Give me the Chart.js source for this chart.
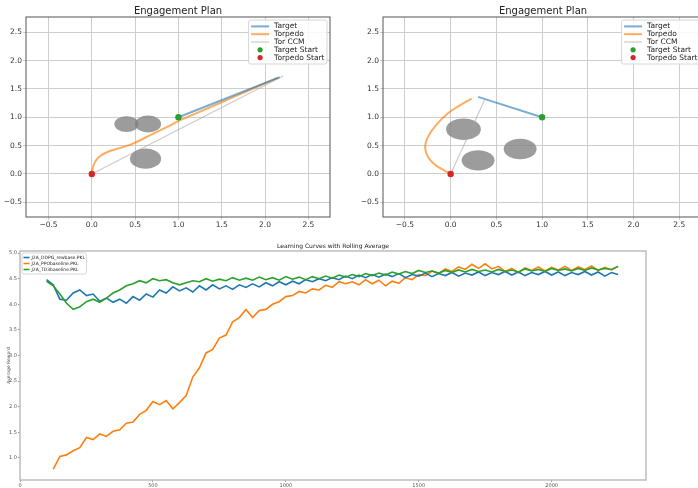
<!DOCTYPE html>
<html>
<head>
<meta charset="utf-8">
<script src="https://cdn.jsdelivr.net/npm/chart.js@4.4.0/dist/chart.umd.min.js"></script>
<style>
html, body { margin: 0; padding: 0; background: #fff; overflow: hidden; width: 698px; height: 488px; }
canvas { position: absolute; }
#plan1 { left: 0; top: 0; }
#plan2 { left: 350px; top: 0; }
#curves { left: 0; top: 236px; }
</style>
</head>
<body>
<canvas id="plan1" width="345" height="235"></canvas>
<canvas id="plan2" width="360" height="235"></canvas>
<canvas id="curves" width="698" height="252"></canvas>
<script>
// ---- Engagement plan (left) ----
const plan1TargetX = [1.0, 2.17];
const plan1TargetY = [1.0, 1.71];
const plan1TorpX = [0, 0.01, 0.04, 0.10, 0.20, 0.33, 0.48, 0.67, 0.87, 1.01, 1.25, 1.64, 2.15];
const plan1TorpY = [0, 0.10, 0.22, 0.32, 0.40, 0.46, 0.54, 0.68, 0.83, 0.94, 1.10, 1.36, 1.70];
const plan1CcmX = [0, 2.21];
const plan1CcmY = [0, 1.73];
const plan1ObsX = [0.40, 0.65, 0.62];
const plan1ObsY = [0.88, 0.88, 0.27];
const plan1ObsR = [0.14, 0.15, 0.18];

// ---- Engagement plan (right) ----
const plan2TargetX = [1.0, 0.30];
const plan2TargetY = [1.0, 1.36];
const plan2TorpX = [0, -0.08, -0.16, -0.22, -0.26, -0.28, -0.25, -0.16, -0.03, 0.10, 0.23];
const plan2TorpY = [0, 0.07, 0.15, 0.24, 0.34, 0.48, 0.65, 0.86, 1.07, 1.21, 1.33];
const plan2CcmX = [0, 0.37];
const plan2CcmY = [0, 1.30];
const plan2ObsX = [0.14, 0.30, 0.76];
const plan2ObsY = [0.79, 0.24, 0.44];
const plan2ObsR = [0.19, 0.18, 0.18];

const planTicks = [-0.5, 0.0, 0.5, 1.0, 1.5, 2.0, 2.5];

// ---- Learning curves ----
const steps = [100,125,150,175,200,225,250,275,300,325,350,375,400,425,450,475,500,525,550,575,
  600,625,650,675,700,725,750,775,800,825,850,875,900,925,950,975,1000,1025,1050,1075,
  1100,1125,1150,1175,1200,1225,1250,1275,1300,1325,1350,1375,1400,1425,1450,1475,1500,1525,1550,1575,
  1600,1625,1650,1675,1700,1725,1750,1775,1800,1825,1850,1875,1900,1925,1950,1975,2000,2025,2050,2075,
  2100,2125,2150,2175,2200,2225,2250];
const ddpgReward = [4.48,4.38,4.10,4.08,4.22,4.28,4.17,4.20,4.06,4.12,
  4.04,4.10,4.02,4.15,4.08,4.20,4.14,4.28,4.22,4.34,
  4.26,4.32,4.24,4.36,4.28,4.38,4.30,4.36,4.29,4.38,
  4.33,4.40,4.34,4.42,4.36,4.44,4.38,4.45,4.40,4.48,
  4.44,4.50,4.46,4.52,4.48,4.55,4.50,4.57,4.52,4.58,
  4.53,4.59,4.54,4.60,4.52,4.58,4.55,4.61,4.54,4.60,
  4.56,4.62,4.55,4.61,4.57,4.63,4.56,4.62,4.58,4.64,
  4.57,4.63,4.56,4.62,4.58,4.64,4.57,4.63,4.56,4.62,
  4.58,4.64,4.57,4.63,4.55,4.62,4.58];
const ppoReward = [null,0.78,1.03,1.06,1.14,1.20,1.40,1.36,1.47,1.42,
  1.52,1.55,1.68,1.70,1.85,1.93,2.10,2.04,2.12,1.96,
  2.08,2.22,2.58,2.76,3.05,3.12,3.34,3.40,3.66,3.74,
  3.90,3.74,3.88,3.90,4.00,4.05,4.15,4.17,4.25,4.22,
  4.30,4.28,4.37,4.33,4.44,4.40,4.44,4.38,4.48,4.40,
  4.47,4.36,4.45,4.41,4.52,4.48,4.58,4.56,4.65,4.60,
  4.69,4.64,4.73,4.68,4.78,4.70,4.79,4.69,4.74,4.64,
  4.70,4.62,4.71,4.66,4.73,4.65,4.72,4.67,4.74,4.66,
  4.73,4.68,4.75,4.66,4.72,4.67,4.74];
const td3Reward = [4.45,4.36,4.20,4.02,3.90,3.95,4.05,4.10,4.04,4.12,
  4.22,4.28,4.36,4.40,4.46,4.42,4.50,4.46,4.48,4.42,
  4.38,4.42,4.46,4.44,4.50,4.45,4.49,4.46,4.52,4.47,
  4.51,4.47,4.53,4.48,4.52,4.47,4.54,4.49,4.53,4.48,
  4.54,4.50,4.55,4.51,4.57,4.53,4.58,4.54,4.60,4.56,
  4.61,4.57,4.63,4.59,4.64,4.60,4.66,4.62,4.65,4.61,
  4.66,4.62,4.67,4.63,4.68,4.64,4.67,4.63,4.68,4.64,
  4.67,4.63,4.69,4.65,4.68,4.64,4.70,4.66,4.69,4.65,
  4.70,4.66,4.71,4.67,4.70,4.68,4.74];
const curveNames = ['J2A_DDPG_rewbase.PKL', 'J2A_PPObaseline.PKL', 'J2A_TD3baseline.PKL'];
const stepTicks = [0, 500, 1000, 1500, 2000];
const rewardTicks = [1.0, 1.5, 2.0, 2.5, 3.0, 3.5, 4.0, 4.5, 5.0];

const FONT = '"DejaVu Sans", sans-serif';

function pts(xs, ys) {
  return xs.map((x, i) => ({ x: x, y: ys[i] }));
}

function fmt1(v) {
  return (v < 0 ? '\u2212' : '') + Math.abs(v).toFixed(1);
}

// gray circles (obstacles), sized in data units so they go elliptical like matplotlib
const obstaclePlugin = {
  id: 'obstacles',
  beforeDatasetsDraw(chart, args, opts) {
    if (!opts.xs) return;
    const ctx = chart.ctx, a = chart.chartArea, sx = chart.scales.x, sy = chart.scales.y;
    ctx.save();
    ctx.beginPath();
    ctx.rect(a.left, a.top, a.right - a.left, a.bottom - a.top);
    ctx.clip();
    ctx.fillStyle = opts.color;
    opts.xs.forEach((cx, i) => {
      const px = sx.getPixelForValue(cx), py = sy.getPixelForValue(opts.ys[i]);
      const rx = Math.abs(sx.getPixelForValue(cx + opts.rs[i]) - px);
      const ry = Math.abs(sy.getPixelForValue(opts.ys[i] + opts.rs[i]) - py);
      ctx.beginPath();
      ctx.ellipse(px, py, rx, ry, 0, 0, Math.PI * 2);
      ctx.fill();
    });
    ctx.restore();
  }
};

// full box around the plot + title centred over the plot area
const framePlugin = {
  id: 'frame',
  afterDraw(chart, args, opts) {
    const ctx = chart.ctx, a = chart.chartArea;
    ctx.save();
    ctx.strokeStyle = opts.color;
    ctx.lineWidth = opts.width;
    ctx.strokeRect(a.left, a.top, a.right - a.left, a.bottom - a.top);
    if (opts.title) {
      ctx.fillStyle = '#222';
      ctx.font = opts.titleSize + 'px ' + FONT;
      ctx.textAlign = 'center';
      ctx.textBaseline = 'alphabetic';
      ctx.fillText(opts.title, (a.left + a.right) / 2, a.top - opts.titleGap);
    }
    ctx.restore();
  }
};

// matplotlib-style legend drawn inside the axes
const legendPlugin = {
  id: 'insideLegend',
  afterDatasetsDraw(chart, args, o) {
    const ctx = chart.ctx, a = chart.chartArea;
    const items = chart.data.datasets;
    ctx.save();
    ctx.font = o.fontSize + 'px ' + FONT;
    const textW = Math.max(...items.map(ds => ctx.measureText(ds.label).width));
    const w = o.pad * 2 + o.swatch + o.gap + textW;
    const h = o.pad * 2 + items.length * o.row;
    const x0 = o.align === 'right' ? a.right - o.margin - w : a.left + o.margin;
    const y0 = a.top + o.margin;
    ctx.fillStyle = 'rgba(255,255,255,0.85)';
    ctx.strokeStyle = '#d6d6d6';
    ctx.lineWidth = 1;
    ctx.beginPath();
    ctx.roundRect(x0, y0, w, h, 2);
    ctx.fill();
    ctx.stroke();
    ctx.textBaseline = 'middle';
    ctx.fillStyle = '#222';
    items.forEach((ds, i) => {
      const cy = y0 + o.pad + o.row * (i + 0.5);
      const sx = x0 + o.pad;
      if (ds.marker) {
        ctx.fillStyle = ds.backgroundColor;
        ctx.beginPath();
        ctx.arc(sx + o.swatch / 2, cy, o.dot, 0, Math.PI * 2);
        ctx.fill();
      } else {
        ctx.strokeStyle = ds.borderColor;
        ctx.lineWidth = ds.borderWidth;
        ctx.beginPath();
        ctx.moveTo(sx, cy);
        ctx.lineTo(sx + o.swatch, cy);
        ctx.stroke();
      }
      ctx.fillStyle = '#222';
      ctx.fillText(ds.label, sx + o.swatch + o.gap, cy);
    });
    ctx.restore();
  }
};

function planConfig(d, yWidth, rightPad, xMin, xMax) {
  return {
    type: 'scatter',
    data: {
      datasets: [
        { label: 'Target', data: pts(d.tx, d.ty), showLine: true, borderColor: 'rgba(31,119,180,0.6)', borderWidth: 2, pointRadius: 0, order: 2 },
        { label: 'Torpedo', data: pts(d.px, d.py), showLine: true, borderColor: 'rgba(255,127,14,0.65)', borderWidth: 2, pointRadius: 0, tension: 0.35, order: 3 },
        { label: 'Tor CCM', data: pts(d.cx, d.cy), showLine: true, borderColor: 'rgba(160,160,160,0.55)', borderWidth: 1.2, pointRadius: 0, order: 4 },
        { label: 'Target Start', data: [{ x: d.tx[0], y: d.ty[0] }], marker: true, backgroundColor: '#2ca02c', pointRadius: 3.2, borderWidth: 0, order: 0 },
        { label: 'Torpedo Start', data: [{ x: d.px[0], y: d.py[0] }], marker: true, backgroundColor: '#d62728', pointRadius: 3.2, borderWidth: 0, order: 1 }
      ]
    },
    options: {
      responsive: false,
      animation: false,
      devicePixelRatio: 1,
      layout: { padding: { top: 17, right: rightPad, left: 0, bottom: 0 } },
      plugins: {
        legend: { display: false },
        tooltip: { enabled: false },
        obstacles: { xs: d.ox, ys: d.oy, rs: d.or, color: 'rgba(128,128,128,0.78)' },
        frame: { color: '#555', width: 1, title: 'Engagement Plan', titleSize: 10, titleGap: 3 },
        insideLegend: { align: 'right', fontSize: 7.5, row: 7.8, pad: 2.5, swatch: 18, gap: 5, margin: 3, dot: 2.6 }
      },
      scales: {
        x: {
          type: 'linear', min: xMin, max: xMax,
          afterBuildTicks: s => { s.ticks = planTicks.map(v => ({ value: v })); },
          afterFit: s => { s.height = 18; },
          grid: { color: '#cdcdcd', lineWidth: 1, tickLength: 3 },
          border: { display: false },
          ticks: { font: { family: FONT, size: 7.5 }, color: '#333', padding: 1, maxRotation: 0, callback: fmt1 }
        },
        y: {
          type: 'linear', min: -0.76, max: 2.77,
          afterBuildTicks: s => { s.ticks = planTicks.map(v => ({ value: v })); },
          afterFit: s => { s.width = yWidth; },
          grid: { color: '#cdcdcd', lineWidth: 1, tickLength: 3 },
          border: { display: false },
          ticks: { font: { family: FONT, size: 7.5 }, color: '#333', padding: 1, callback: fmt1 }
        }
      }
    },
    plugins: [obstaclePlugin, framePlugin, legendPlugin]
  };
}

new Chart(document.getElementById('plan1'), planConfig({
  tx: plan1TargetX, ty: plan1TargetY, px: plan1TorpX, py: plan1TorpY,
  cx: plan1CcmX, cy: plan1CcmY, ox: plan1ObsX, oy: plan1ObsY, or: plan1ObsR
}, 26, 15, -0.76, 2.75));

new Chart(document.getElementById('plan2'), planConfig({
  tx: plan2TargetX, ty: plan2TargetY, px: plan2TorpX, py: plan2TorpY,
  cx: plan2CcmX, cy: plan2CcmY, ox: plan2ObsX, oy: plan2ObsY, or: plan2ObsR
}, 33, 7, -0.74, 2.76));

const curveColors = ['#1f77b4', '#ff7f0e', '#2ca02c'];
const curveSeries = [ddpgReward, ppoReward, td3Reward];

new Chart(document.getElementById('curves'), {
  type: 'line',
  data: {
    datasets: curveSeries.map((vals, k) => ({
      label: curveNames[k],
      data: pts(steps, vals),
      borderColor: curveColors[k],
      borderWidth: 1.6,
      pointRadius: 0,
      tension: 0,
      order: k === 1 ? 2 : (k === 0 ? 1 : 0)
    }))
  },
  options: {
    responsive: false,
    animation: false,
    devicePixelRatio: 1,
    layout: { padding: { top: 15, right: 52, left: 0, bottom: 0 } },
    plugins: {
      legend: { display: false },
      tooltip: { enabled: false },
      frame: { color: '#bdbdbd', width: 1.5, title: 'Learning Curves with Rolling Average', titleSize: 6, titleGap: 3 },
      insideLegend: { align: 'left', fontSize: 4.5, row: 6, pad: 1.5, swatch: 6, gap: 2, margin: 2, dot: 1.5 }
    },
    scales: {
      x: {
        type: 'linear', min: 0, max: 2355,
        afterBuildTicks: s => { s.ticks = stepTicks.map(v => ({ value: v })); },
        afterFit: s => { s.height = 8; },
        grid: { drawOnChartArea: false, color: '#999', tickLength: 2 },
        border: { display: false },
        ticks: { font: { family: FONT, size: 5 }, color: '#555', padding: 1, maxRotation: 0, callback: v => String(v) }
      },
      y: {
        type: 'linear', min: 0.57, max: 5.04,
        afterBuildTicks: s => { s.ticks = rewardTicks.map(v => ({ value: v })); },
        afterFit: s => { s.width = 20; },
        grid: { drawOnChartArea: false, color: '#999', tickLength: 2 },
        border: { display: false },
        title: { display: true, text: 'Average Reward', font: { family: FONT, size: 4.5 }, color: '#555', padding: { top: 6, bottom: 0 } },
        ticks: { font: { family: FONT, size: 5 }, color: '#555', padding: 1, callback: v => v.toFixed(1) }
      }
    }
  },
  plugins: [framePlugin, legendPlugin]
});
</script>
</body>
</html>
